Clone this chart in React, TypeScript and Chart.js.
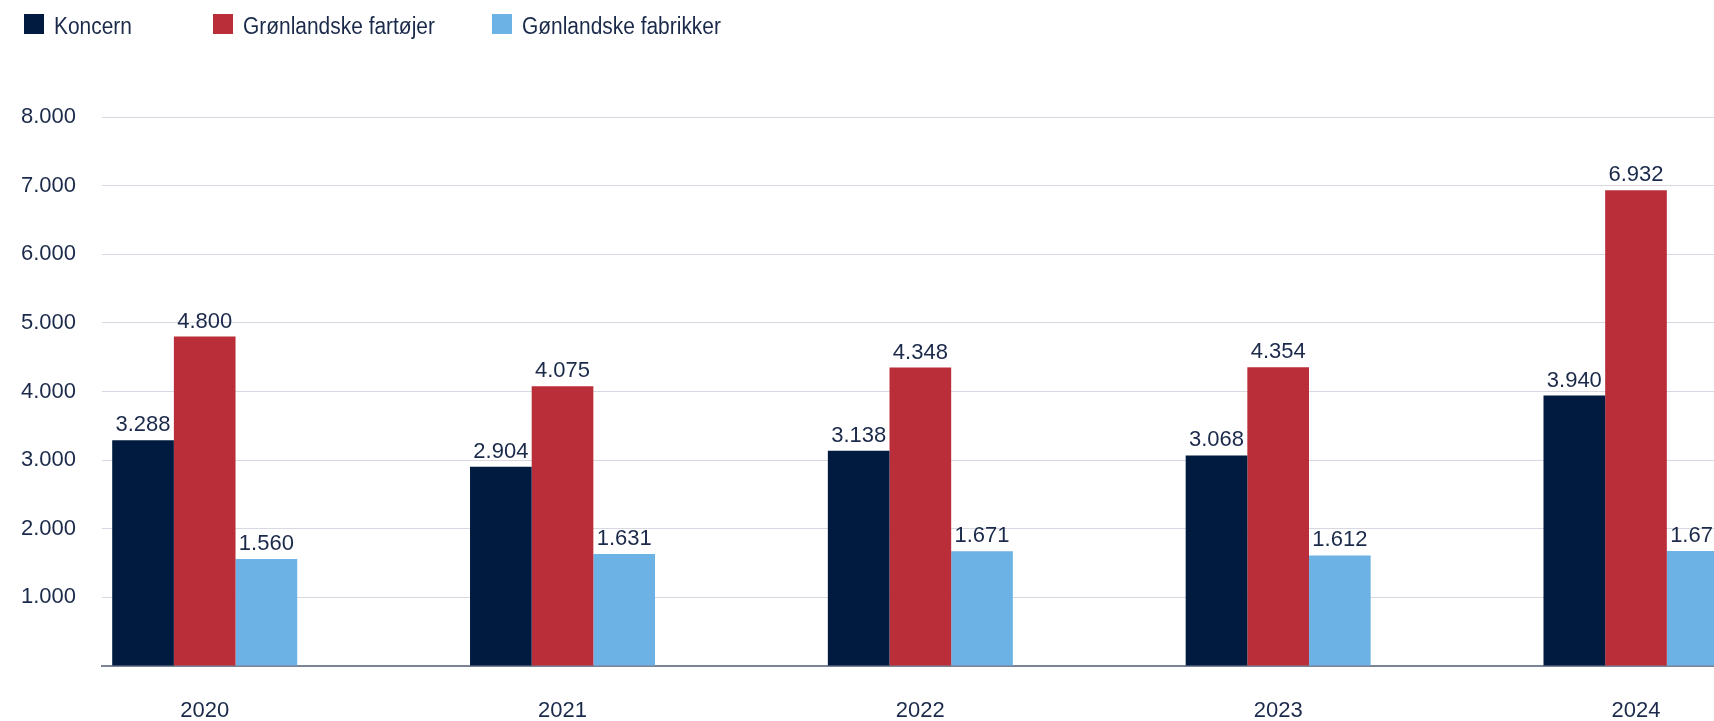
import React, { useEffect, useRef } from 'react';
import { Chart, registerables } from 'chart.js';

Chart.register(...registerables);

const categories = ['2020', '2021', '2022', '2023', '2024'];
const koncern = [3288, 2904, 3138, 3068, 3940];
const fartojer = [4800, 4075, 4348, 4354, 6932];
const fabrikker = [1560, 1631, 1671, 1612, 1676];
const seriesNames = ['Koncern', 'Grønlandske fartøjer', 'Gønlandske fabrikker'];
const seriesColors = ['#001A40', '#B92E38', '#6CB2E4'];
const yTicks = [0, 1000, 2000, 3000, 4000, 5000, 6000, 7000, 8000];

const TEXT = '#1B2A4A';
const FONT = "'Liberation Sans', Arial, sans-serif";

const fmt = (v: number) =>
  Math.round(v)
    .toString()
    .replace(/\B(?=(\d{3})+(?!\d))/g, '.');

const valueLabels = {
  id: 'valueLabels',
  afterDatasetsDraw(chart: any) {
    const ctx = chart.ctx;
    ctx.save();
    ctx.font = `22px ${FONT}`;
    ctx.fillStyle = TEXT;
    ctx.textAlign = 'center';
    ctx.textBaseline = 'alphabetic';
    chart.data.datasets.forEach((ds: any, di: number) => {
      const meta = chart.getDatasetMeta(di);
      meta.data.forEach((el: any, i: number) => {
        const v = ds.data[i].y;
        ctx.fillText(fmt(v), el.x, el.y - 9);
      });
    });
    ctx.restore();
  },
};

const legendLefts = [24, 213, 492];

export default function App() {
  const ref = useRef<HTMLCanvasElement | null>(null);

  useEffect(() => {
    if (!ref.current) return;
    const series = [koncern, fartojer, fabrikker];
    const chart = new Chart(ref.current, {
      type: 'bar',
      data: {
        datasets: series.map((arr, si) => ({
          label: seriesNames[si],
          data: arr.map((v, i) => ({ x: i, y: v })),
          backgroundColor: seriesColors[si],
          borderWidth: 0,
          categoryPercentage: 0.517,
          barPercentage: 1,
        })),
      },
      options: {
        responsive: false,
        animation: false,
        layout: { padding: { top: 117, left: 0, right: 0, bottom: 0 } },
        plugins: {
          legend: { display: false },
          tooltip: { enabled: false },
        },
        scales: {
          x: {
            type: 'linear',
            offset: false,
            min: -0.287,
            max: 4.218,
            afterBuildTicks: (scale: any) => {
              scale.ticks = categories.map((_, i) => ({ value: i }));
            },
            afterFit: (scale: any) => {
              scale.height = 55;
            },
            grid: { display: false, drawTicks: false, offset: false },
            border: { display: true, color: '#7B8396', width: 2 },
            ticks: {
              padding: 32,
              color: TEXT,
              font: { family: FONT, size: 22 },
              callback: (v: any) => categories[Math.round(Number(v))] ?? '',
              maxRotation: 0,
              autoSkip: false,
            },
          },
          y: {
            min: 0,
            max: 8000,
            afterBuildTicks: (scale: any) => {
              scale.ticks = yTicks.map((v) => ({ value: v }));
            },
            afterFit: (scale: any) => {
              scale.width = 102;
            },
            grid: { color: '#D8D8E2', lineWidth: 1, drawTicks: false },
            border: { display: false },
            ticks: {
              padding: 26,
              color: TEXT,
              font: { family: FONT, size: 22 },
              callback: (v: any) => (Number(v) === 0 ? '' : fmt(Number(v))),
            },
          },
        },
      } as any,
      plugins: [valueLabels],
    });
    return () => chart.destroy();
  }, []);

  return (
    <div style={{ position: 'absolute', left: 0, top: 0, width: 1714, height: 721, background: '#fff', overflow: 'hidden' }}>
      <canvas ref={ref} width={1714} height={721} style={{ position: 'absolute', left: 0, top: 0, width: 1714, height: 721 }} />
      {seriesNames.map((name, i) => (
        <div key={name} style={{ position: 'absolute', left: legendLefts[i], top: 14, height: 20, whiteSpace: 'nowrap' }}>
          <div style={{ position: 'absolute', left: 0, top: 0, width: 20, height: 20, background: seriesColors[i] }} />
          <div
            style={{
              position: 'absolute',
              left: 30,
              top: 2,
              lineHeight: '20px',
              fontSize: 23,
              fontFamily: FONT,
              color: TEXT,
              transform: 'scaleX(0.91)',
              transformOrigin: 'left center',
            }}
          >
            {name}
          </div>
        </div>
      ))}
    </div>
  );
}
